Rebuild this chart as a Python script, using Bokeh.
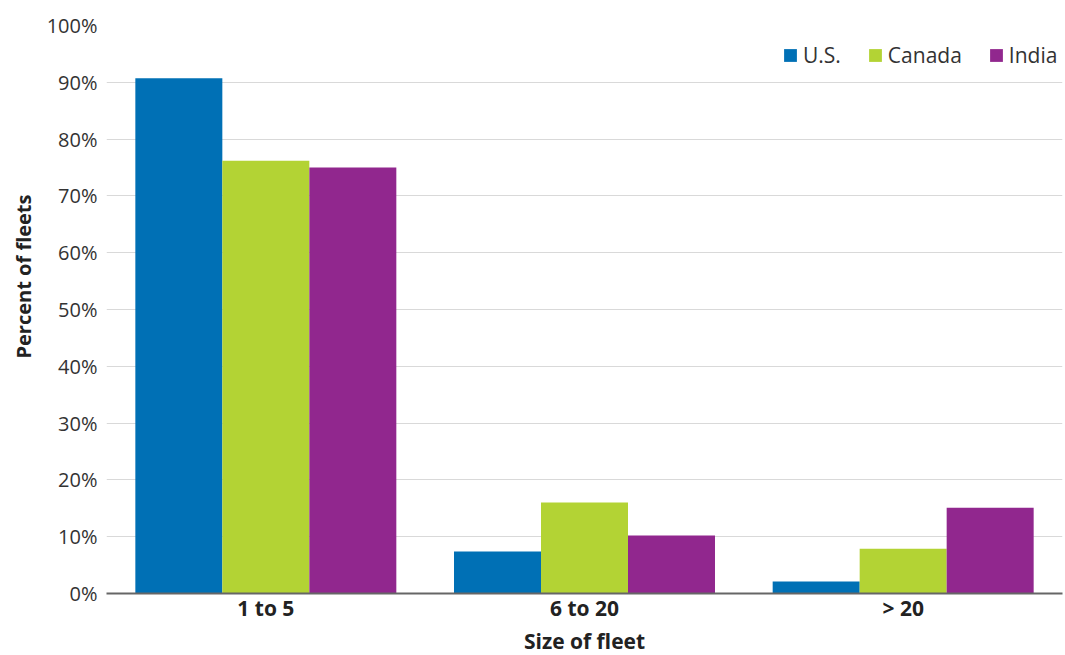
from bokeh.plotting import figure
from bokeh.models import (ColumnDataSource, FactorRange, Range1d, PrintfTickFormatter,
                          SingleIntervalTicker, Legend, LegendItem, Title)
from bokeh.transform import dodge
from bokeh.embed import file_html
from bokeh.resources import INLINE

categories = ["1 to 5", "6 to 20", "> 20"]
us = [90.7, 7.4, 2.1]
canada = [76.2, 16.0, 7.9]
india = [75.0, 10.2, 15.1]
series_names = ["U.S.", "Canada", "India"]
colors = ["#0070b5", "#b3d334", "#91278e"]
x_title = "Size of fleet"
y_title = "Percent of fleets"

src = ColumnDataSource(dict(cat=categories, us=us, canada=canada, india=india))

FONT = "Open Sans"

p = figure(x_range=FactorRange(*categories, range_padding=0), y_range=Range1d(0, 100),
           width=1065, height=655, output_backend="svg", toolbar_location=None,
           min_border_left=105, min_border_right=3, min_border_top=25, min_border_bottom=62)

w = 0.273
renderers = []
for key, off, col in zip(["us", "canada", "india"], [-w, 0, w], colors):
    r = p.vbar(x=dodge("cat", off, range=p.x_range), top=key, width=w, source=src,
               fill_color=col, line_color=None)
    renderers.append(r)

legend = Legend(items=[LegendItem(label=n, renderers=[r]) for n, r in zip(series_names, renderers)],
                orientation="horizontal", location=(676, 524), border_line_color=None,
                background_fill_alpha=0, label_text_font=FONT, label_text_font_size="21px",
                label_text_color="#333333", glyph_width=16, glyph_height=16, spacing=26,
                label_standoff=5, padding=0, margin=0)
p.add_layout(legend, "center")

p.outline_line_color = None
p.xgrid.grid_line_color = None
p.ygrid.grid_line_color = "#d9d9d9"
p.ygrid.grid_line_width = 1
p.yaxis.ticker = SingleIntervalTicker(interval=10)
p.yaxis.formatter = PrintfTickFormatter(format="%d%%")
p.yaxis.axis_line_color = None
p.yaxis.major_tick_line_color = None
p.yaxis.minor_tick_line_color = None
p.yaxis.major_tick_out = 0
p.yaxis.major_tick_in = 0
p.yaxis.major_label_text_font = FONT
p.yaxis.major_label_text_font_size = "20px"
p.yaxis.major_label_text_color = "#333333"
p.yaxis.major_label_standoff = 5

p.xaxis.axis_line_color = "#666666"
p.xaxis.axis_line_width = 2
p.xaxis.major_tick_line_color = None
p.xaxis.minor_tick_line_color = None
p.xaxis.major_tick_out = 0
p.xaxis.major_tick_in = 0
p.xaxis.major_label_text_font = FONT
p.xaxis.major_label_text_font_style = "bold"
p.xaxis.major_label_text_font_size = "21px"
p.xaxis.major_label_text_color = "#222222"
p.xaxis.major_label_standoff = 0

p.add_layout(Title(text=x_title, align="center", text_font=FONT, text_font_style="bold",
                   text_font_size="21px", text_color="#222222", standoff=0), "below")
p.add_layout(Title(text=y_title, align="left", text_font=FONT, text_font_style="bold",
                   text_font_size="20px", text_color="#222222", standoff=14, offset=235),
             "left")

open("out.html", "w").write(file_html(p, INLINE))
